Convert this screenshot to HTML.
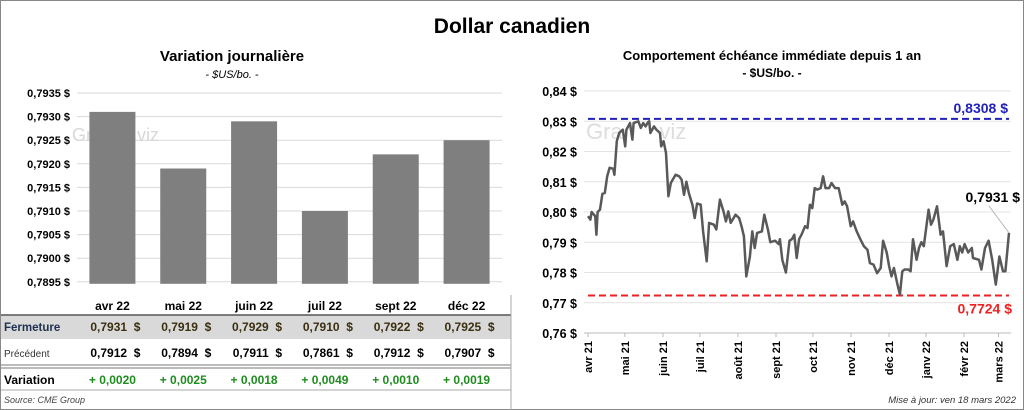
<!DOCTYPE html>
<html><head><meta charset="utf-8">
<style>
body{margin:0;background:#fff;}
svg{display:block;font-family:"Liberation Sans",sans-serif;}
</style></head>
<body>
<svg id="c" width="1024" height="410" viewBox="0 0 1024 410" xmlns="http://www.w3.org/2000/svg">
<rect x="0.5" y="0.5" width="1023" height="409" fill="#fff" stroke="#888"/>
<text x="512" y="33" font-size="21" font-weight="bold" text-anchor="middle">Dollar canadien</text>
<text x="232" y="61" font-size="15" font-weight="bold" text-anchor="middle">Variation  journalière</text>
<text x="232" y="78" font-size="11" font-style="italic" text-anchor="middle">- $US/bo. -</text>
<text x="772" y="60" font-size="13" font-weight="bold" text-anchor="middle">Comportement échéance immédiate depuis 1 an</text>
<text x="772" y="77" font-size="12" font-weight="bold" text-anchor="middle">- $US/bo. -</text>
<g id="left"></g>
<g id="table"></g>
<g id="right"></g>
<text x="4" y="403" font-size="9" font-style="italic" fill="#444">Source: CME Group</text>
<text x="1016" y="403" font-size="9.5" font-style="italic" fill="#333" text-anchor="end">Mise à jour: ven 18 mars 2022</text>
</svg>
<script>
const contracts = ["avr 22","mai 22","juin 22","juil 22","sept 22","déc 22"];
const closeVals = [0.7931,0.7919,0.7929,0.7910,0.7922,0.7925];
const prevVals = [0.7912,0.7894,0.7911,0.7861,0.7912,0.7907];
const varVals = [0.0020,0.0025,0.0018,0.0049,0.0010,0.0019];
const leftTicks = [0.7895,0.7900,0.7905,0.7910,0.7915,0.7920,0.7925,0.7930,0.7935];

const months = ["avr 21","mai 21","juin 21","juil 21","août 21","sept 21","oct 21","nov 21","déc 21","janv 22","févr 22","mars 22"];
const monthDays = [0,30,61,91,122,153,183,214,245,275,306,334];
const rightTicks = [0.76,0.77,0.78,0.79,0.80,0.81,0.82,0.83,0.84];
const days = [0,2,3,6,7,8,10,12,14,16,18,21,22,24,26,29,31,32,35,37,38,40,42,44,46,48,50,51,52,55,57,60,61,63,65,67,69,73,76,78,80,82,84,87,89,91,94,96,99,101,105,107,110,113,115,117,119,123,126,128,130,132,135,137,139,141,145,147,150,152,156,159,160,162,165,168,170,172,174,176,178,181,183,185,187,189,191,194,196,198,201,203,206,209,212,214,216,219,221,224,227,230,233,235,238,241,244,246,249,251,253,255,258,260,262,264,267,269,271,274,276,278,280,284,286,288,291,294,296,299,302,305,308,310,312,314,317,320,321,326,328,331,334,337,340,343,346,348,351];
const prices = [.7986,.7975,.800,.7986,.7925,.800,.8008,.806,.8063,.8118,.8146,.8143,.8123,.8234,.8261,.8272,.8217,.8272,.8294,.8239,.8294,.8297,.83,.8278,.8294,.8283,.8297,.83,.8261,.8283,.8272,.8261,.8217,.8234,.8195,.8052,.8096,.8123,.8118,.8107,.8057,.81,.8063,.8024,.798,.8028,.8024,.7936,.7837,.7964,.7958,.7942,.8041,.8002,.7969,.8002,.7964,.7991,.798,.7953,.792,.7787,.7853,.7936,.7881,.7931,.7936,.7991,.7942,.79,.7905,.7894,.791,.7842,.78,.7905,.791,.7925,.7848,.791,.7925,.7953,.7947,.8024,.8013,.8079,.8074,.8079,.8118,.8079,.8079,.8096,.8079,.8079,.8024,.8035,.8019,.7953,.7969,.7936,.791,.7887,.7875,.7831,.7826,.7798,.7815,.7905,.7866,.7821,.7787,.7815,.776,.7727,.7804,.781,.781,.7804,.791,.7842,.7881,.79,.7887,.8008,.7958,.7975,.8019,.7925,.7936,.7821,.7887,.7894,.7842,.7887,.7866,.7894,.7866,.7881,.7848,.7842,.781,.7881,.7905,.7842,.776,.7853,.7804,.7804,.7931];
const maxLevel = 0.8308, minLevel = 0.7724, lastLevel = 0.7931;

const NS="http://www.w3.org/2000/svg";
function mk(tag, attrs, parent, text){const e=document.createElementNS(NS,tag);for(const k in attrs)e.setAttribute(k,attrs[k]);if(text!==undefined)e.textContent=text;parent.appendChild(e);return e;}
const fmt=(v,d)=>v.toFixed(d).replace('.',',');

// left bar chart
const L=document.getElementById('left');
const lx0=77,lx1=502,ly=v=>93+(0.7935-v)/0.0005*23.6;
const band=(lx1-lx0)/contracts.length;
leftTicks.forEach(t=>{
  const g=mk('line',{x1:lx0,x2:lx1,y1:ly(t),y2:ly(t),stroke:'#d9d9d9'},L);
  
  
  const tx=mk('text',{x:70,y:ly(t)+4,'font-size':11,'font-weight':'bold','text-anchor':'end'},L,fmt(t,4)+' $');
  
  
});
mk('text',{x:72,y:141,'font-size':18,fill:'#d8d8d8'},L,'Gra\u00a0\u00a0\u00a0\u00a0\u00a0\u00a0\u00a0viz');
closeVals.forEach((v,i)=>{
  const cx=lx0+band*(i+0.5);
  const b=mk('rect',{x:cx-23,y:ly(v),width:46,height:ly(0.7895)+2-ly(v),fill:'#7f7f7f'},L);
  
  
});

// table
const T=document.getElementById('table');
mk('rect',{x:1,y:315,width:510,height:24,fill:'#d9d9d9'},T);
mk('line',{x1:1,x2:511,y1:315,y2:315,stroke:'#555','stroke-width':1.5},T);
mk('line',{x1:1,x2:511,y1:365,y2:365,stroke:'#777','stroke-width':1},T);
mk('line',{x1:1,x2:511,y1:368,y2:368,stroke:'#777','stroke-width':1},T);
mk('line',{x1:1,x2:511,y1:390,y2:390,stroke:'#aaa','stroke-width':1},T);
mk('line',{x1:511,x2:511,y1:295,y2:410,stroke:'#aaa','stroke-width':1},T);
const r1=mk('text',{x:4,y:331,'font-size':11.5,'font-weight':'bold',fill:'#1f2f4f'},T,'Fermeture');

const r2=mk('text',{x:4,y:357,'font-size':10,fill:'#333'},T,'Précédent');

const r3=mk('text',{x:4,y:384,'font-size':12,'font-weight':'bold'},T,'Variation');

contracts.forEach((c,i)=>{
  const cx=lx0+band*(i+0.5);
  const h=mk('text',{x:cx,y:310,'font-size':12,'font-weight':'bold','text-anchor':'middle'},T,c);
  
  const a=mk('text',{x:cx+28,y:331,'font-size':12,'font-weight':'bold','text-anchor':'end',fill:'#3a2f10'},T,fmt(closeVals[i],4)+'\u00a0\u00a0$');
  
  const b=mk('text',{x:cx+28,y:357,'font-size':12,'font-weight':'bold','text-anchor':'end'},T,fmt(prevVals[i],4)+'\u00a0\u00a0$');
  
  const d=mk('text',{x:cx,y:384,'font-size':12,'font-weight':'bold','text-anchor':'middle',fill:'#1e8c1e'},T,'+ '+fmt(varVals[i],4));
  
});

// right line chart
const R=document.getElementById('right');
const rx0=588,rx1=1009,ry=v=>91+(0.84-v)/0.01*30.25;
const rxd=d=>rx0+d*(rx1-rx0)/351;
rightTicks.forEach(t=>{
  const g=mk('line',{x1:rx0-4,x2:rx1+2,y1:ry(t),y2:ry(t),stroke:t===0.76?'#bbb':'#e3e3e3'},R);
  
  const tx=mk('text',{x:577,y:ry(t)+5,'font-size':12.5,'font-weight':'bold','text-anchor':'end'},R,fmt(t,2)+' $');
  
});
monthDays.forEach((d,i)=>{
  const x=rxd(d)+(i*0.9);
  mk('line',{x1:x,x2:x,y1:ry(0.76),y2:ry(0.76)+4,stroke:'#bbb'},R);
  const tx=mk('text',{x:0,y:0,'font-size':11,'font-weight':'bold','text-anchor':'end',transform:`translate(${x+4},${ry(0.76)+8}) rotate(-90)`},R,months[i]);
  
});
mk('text',{x:586,y:139,'font-size':22,fill:'#ddd'},R,'Gra\u00a0\u00a0\u00a0\u00a0\u00a0\u00a0viz');
const mx=mk('line',{x1:rx0,x2:rx1,y1:ry(maxLevel),y2:ry(maxLevel),stroke:'#2222bb','stroke-width':2,'stroke-dasharray':'7,4'},R);

const mn=mk('line',{x1:rx0,x2:rx1,y1:ry(minLevel),y2:ry(minLevel),stroke:'#ee2222','stroke-width':2,'stroke-dasharray':'7,4'},R);

const pts=days.map((d,i)=>rxd(d).toFixed(1)+','+ry(prices[i]).toFixed(1)).join(' ');
const pl=mk('polyline',{points:pts,fill:'none',stroke:'#595959','stroke-width':2.5,'stroke-linejoin':'round'},R);

const lm=mk('text',{x:1008,y:ry(maxLevel)-6,'font-size':14,'font-weight':'bold','text-anchor':'end',fill:'#2222bb'},R,fmt(maxLevel,4)+' $');

const ln=mk('text',{x:1012,y:ry(minLevel)+18,'font-size':14,'font-weight':'bold','text-anchor':'end',fill:'#ee2222'},R,fmt(minLevel,4)+' $');

const lastX=rxd(days[days.length-1]),lastY=ry(lastLevel);
mk('line',{x1:989,y1:206,x2:lastX,y2:lastY,stroke:'#aaa','stroke-width':0.8},R);
const ll=mk('text',{x:1020,y:202,'font-size':14,'font-weight':'bold','text-anchor':'end'},R,fmt(lastLevel,4)+' $');

</script>
</body></html>
